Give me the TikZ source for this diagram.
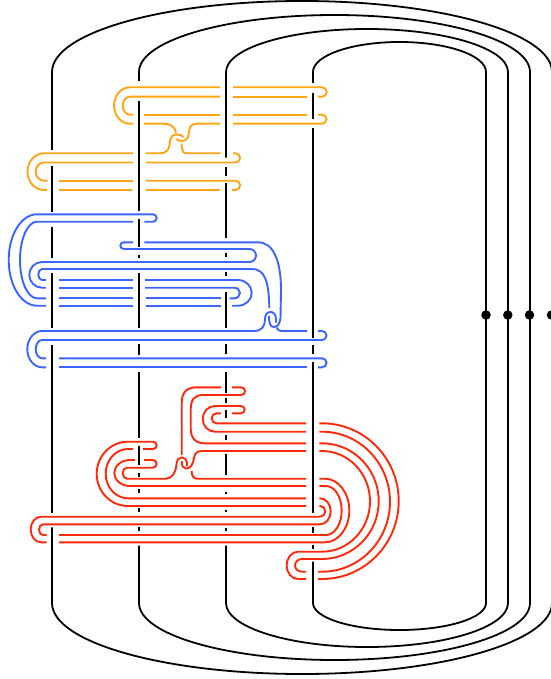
\documentclass[tikz,border=0pt]{standalone}
\definecolor{knotorange}{RGB}{255,165,20}
\definecolor{knotblue}{RGB}{60,100,255}
\definecolor{knotred}{RGB}{255,40,10}
\begin{document}
\begin{tikzpicture}[
x=1pt,y=-1pt,
strand/.style={line width=1.8pt,black},
orangeband/.style={line width=1.9pt,knotorange},
blueband/.style={line width=1.9pt,knotblue},
redband/.style={line width=1.9pt,knotred},
bead/.style={circle,fill=black,inner sep=0pt,minimum size=9.5pt}
]

\useasboundingbox (0,0) rectangle (550,679);

\draw[strand] (52,150) -- (52,72) arc (180:360:250 and 71) -- (552,603) arc (0:180:250 and 71) -- (52,527.3);
\draw[strand] (52,166) -- (52,211.7) (52,226.7) -- (52,257.7) (52,272.7) -- (52,327.7) (52,345) -- (52,512.7);

\draw[strand] (139,81) -- (139,72) arc (180:360:195.5 and 57) -- (530,603) arc (0:180:195.5 and 57) -- (139,545.7);
\draw[strand] (139,100.7) -- (139,211) (139,219) -- (139,246.7) (139,255) -- (139,257.7) (139,273.3) -- (139,327.7);
\draw[strand] (139,344.3) -- (139,355) (139,371.7) -- (139,438.3) (139,445.7) -- (139,465) (139,473.3) -- (139,477.3);
\draw[strand] (139,489.3) -- (139,493.3) (139,508.3) -- (139,512.3) (139,527.3) -- (139,530.7);

\draw[strand] (226,157.7) -- (226,72) arc (180:360:141 and 43) -- (508,603) arc (0:180:141 and 44) -- (226,545.7);
\draw[strand] (226,167.3) -- (226,176) (226,183.3) -- (226,238.3) (226,253.3) -- (226,257.3) (226,271.7) -- (226,276);
\draw[strand] (226,292.3) -- (226,327.7) (226,344.3) -- (226,354) (226,371.7) -- (226,392.7) (226,398) -- (226,403.3);
\draw[strand] (226,410) -- (226,418.3) (226,435) -- (226,440) (226,454) -- (226,475) (226,491.7) -- (226,494);
\draw[strand] (226,510) -- (226,512) (226,528.3) -- (226,531);

\draw[strand] (313,83) -- (313,72) arc (180:360:86.5 and 30) -- (486,603) arc (0:180:86.5 and 27) -- (313,561.7);
\draw[strand] (313,92.7) -- (313,119) (313,128.3) -- (313,337.7) (313,345) -- (313,353.7) (313,362) -- (313,513.3);
\draw[strand] (313,526.7) -- (313,533.3) (313,545) -- (313,549.3);

\node[bead] (bead1) at (486,315) {};
\node[bead] (bead2) at (507.8,315) {};
\node[bead] (bead3) at (529.5,315) {};
\node[bead] (bead4) at (551.5,315) {};

\draw[orangeband] (220,87.3) -- (130,87.3) arc (270:90:16 and 18.2) -- (133,123.7);
\draw[orangeband] (220,96.7) -- (130,96.7) arc (270:90:7.3 and 9) -- (133,114.7);
\draw[orangeband] (233,87.3) -- (322,87.3) arc (-90:90:4.7) -- (318,96.7);
\draw[orangeband] (233,96.7) -- (307,96.7);
\draw[orangeband] (144,114.7) -- (220,114.7);
\draw[orangeband] (233,114.7) -- (307,114.7);
\draw[orangeband] (318,114.7) -- (322,114.7) arc (-90:90:4.5) -- (233,123.7);

\draw[orangeband] (144,123.7) -- (164,123.7) .. controls (171,123.7) and (175,127) .. (176,132.7);
\draw[orangeband] (220,123.7) -- (197,123.7) .. controls (191,123.7) and (189.5,127) .. (189,132) .. controls (188.6,137) and (187,141) .. (182,141) .. controls (179.5,141) and (177,140) .. (176,139);
\draw[orangeband] (145.7,153.3) -- (160,153.3) .. controls (167,153.3) and (169.3,149) .. (169.8,143) .. controls (170,137) and (173,134.3) .. (176.5,134.3) .. controls (179.5,134.3) and (182,135.5) .. (183.5,137);
\draw[orangeband] (220.7,153.3) -- (187,153.3) .. controls (183,153.3) and (181.7,151) .. (181.7,144);

\draw[orangeband] (133,153.3) -- (44,153.3) arc (270:90:16.5 and 18.35) -- (47,190);
\draw[orangeband] (133,162.5) -- (44,162.5) arc (270:90:8.3 and 9.1) -- (47.5,180.7);
\draw[orangeband] (233,153.3) -- (235.5,153.3) arc (-90:90:4.6) -- (146,162.5);
\draw[orangeband] (59,180.7) -- (133,180.7);
\draw[orangeband] (146,180.7) -- (235.5,180.7) arc (-90:90:4.65) -- (232,190);
\draw[orangeband] (59,190) -- (132,190);
\draw[orangeband] (146,190) -- (220,190);

\draw[blueband] (144.3,221.7) -- (153,221.7) arc (90:-90:3.7) -- (37,214.3) arc (270:90:28.3 and 45.7) -- (46,305.7);
\draw[blueband] (133,221.7) -- (37,221.7) arc (270:90:17 and 38.3) -- (46,298.3);
\draw[blueband] (133,242.3) -- (123.7,242.3) arc (270:90:3.35) -- (249.5,249) arc (-90:90:6.5) -- (42,262) arc (270:90:12.7 and 12.85) -- (46,287.7);
\draw[blueband] (269.3,308) .. controls (269,280) and (264,269) .. (252,269) -- (42,269) arc (270:90:3.7 and 5.5) -- (46,280);
\draw[blueband] (144.3,242.3) -- (258,242.3) .. controls (274,242.3) and (281,262) .. (281,290) -- (280.5,318) .. controls (280,324) and (277,327) .. (274,327) .. controls (270,327) and (269,323) .. (269,316);
\draw[blueband] (276,322.5) -- (276,319) .. controls (276,314) and (273,312) .. (270.5,312) .. controls (267,312) and (265,315) .. (265,319) .. controls (265,326) and (262,331) .. (254,331) -- (42,331) arc (270:90:14.7 and 18.15) -- (46,367.3);
\draw[blueband] (276.5,327.5) .. controls (277.5,330) and (279,331) .. (283,331) -- (307,331);
\draw[blueband] (318,331) -- (322,331) arc (-90:90:4.5) -- (42,340) arc (270:90:6.3 and 9.15) -- (46,358.3);
\draw[blueband] (59,358.3) -- (322,358.3) arc (-90:90:4.5) -- (318,367.3);
\draw[blueband] (59,367.3) -- (307,367.3);

\draw[blueband] (59,280) -- (133,280);
\draw[blueband] (145,280) -- (238,280) arc (-90:90:13.7 and 12.85) -- (232,305.7);
\draw[blueband] (59,287.7) -- (133,287.7);
\draw[blueband] (145,287.7) -- (234,287.7) arc (-90:90:6 and 5.3) -- (229.7,298.3);
\draw[blueband] (59,298.3) -- (133,298.3);
\draw[blueband] (146,298.3) -- (220.7,298.3);
\draw[blueband] (59,305.7) -- (133,305.7);
\draw[blueband] (146,305.7) -- (220.7,305.7);

\draw[redband] (181.7,455) -- (181.7,403) .. controls (181.7,392) and (187,387.3) .. (197,387.3) -- (221,387.3);
\draw[redband] (232,387.3) -- (241.2,387.3) arc (-90:90:3.85) -- (203,395) .. controls (194,395) and (190.7,400) .. (190.7,410) -- (190.7,428) .. controls (190.7,438) and (195,443.3) .. (205,443.3) -- (306,443.3);
\draw[redband] (221,413.3) -- (216.5,413.3) arc (270:90:4.8 and 5) -- (306,423.3);
\draw[redband] (232,413.3) -- (241,413.3) arc (90:-90:3.65) -- (215,406) arc (270:90:12.3 and 12.85) -- (306,431.7);
\draw[redband] (306,451) -- (202,451) .. controls (196,451) and (195,454) .. (194,458) .. controls (193,464) and (191,468.5) .. (186,468.5) .. controls (183,468.5) and (181.7,466) .. (181.7,461);
\draw[redband] (187,466) -- (186.9,462) .. controls (186.7,459) and (184,457.5) .. (181.5,457.5) .. controls (178.5,457.5) and (177,460) .. (176.5,464) .. controls (176,472) and (172,478.7) .. (166,478.7) -- (127,478.7) arc (90:270:4.3 and 5.5) -- (152.8,467.7) arc (90:-90:3.85) -- (144,460);
\draw[redband] (191.5,471) .. controls (192,476) and (193.5,478.7) .. (197,478.7) -- (306,478.7);
\draw[redband] (135,460) -- (130,460) arc (270:90:15.7 and 13) -- (306,486);
\draw[redband] (143,449) -- (153,449) arc (90:-90:3.65) -- (128,441.7) arc (270:90:31.3 and 32.15) -- (306,506);
\draw[redband] (133,449) -- (128,449) arc (270:90:22.3 and 24.65) -- (306,498.3);

\draw[redband] (319.3,506) -- (320,506) arc (-90:90:5.35) -- (41,516.7) arc (270:90:10.3 and 12.8) -- (46.7,542.3);
\draw[redband] (319.3,498.3) -- (320,498.3) arc (-90:90:10.7 and 13) -- (43,524.3) arc (270:90:4 and 5.35) -- (46.7,535);
\draw[redband] (319.3,486) -- (326,486) arc (-90:90:15.7 and 24.5) -- (59,535);
\draw[redband] (319.3,478.7) -- (325,478.7) arc (-90:90:24.3 and 31.8) -- (59,542.3);

\draw[redband] (319.3,423.3) -- (322,423.3) arc (-90:90:76.7 and 77.85) -- (318,579);
\draw[redband] (319.3,431.7) -- (322,431.7) arc (-90:90:68 and 70) -- (318,571.7);
\draw[redband] (319.3,443.3) -- (322,443.3) arc (-90:90:56.7 and 57.85) -- (302,559) arc (270:90:7 and 6.35) -- (306,571.7);
\draw[redband] (319.3,451) -- (322,451) arc (-90:90:48 and 50.35) -- (298,551.7) arc (270:90:11.3 and 13.65) -- (306,579);

\end{tikzpicture}
\end{document}
